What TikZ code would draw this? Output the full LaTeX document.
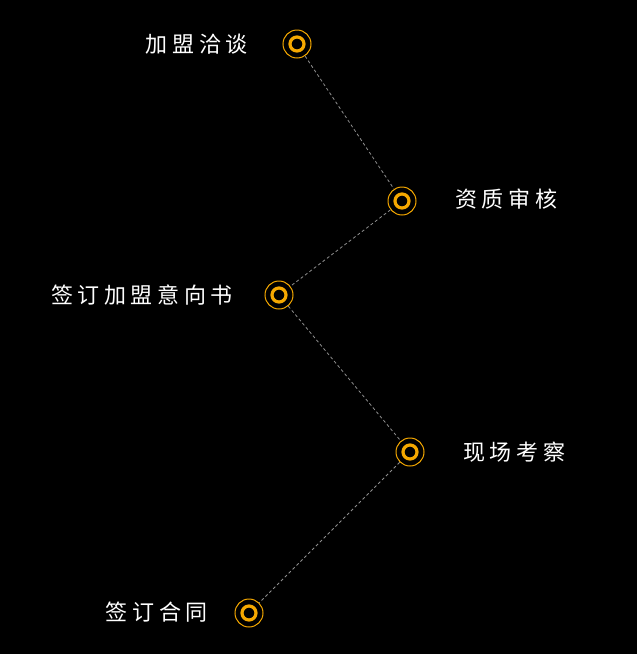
\documentclass[tikz,border=0pt]{standalone}
\usepackage{fontspec}
\newfontfamily\cjk[LetterSpace=21]{Noto Sans CJK SC}
\definecolor{ringcol}{HTML}{F5A800}
\definecolor{dashcol}{HTML}{8E8E8E}
\tikzset{
  stepdot/.style={circle, draw=ringcol, line width=1pt, minimum size=28pt, inner sep=0pt,
    path picture={\draw[ringcol, line width=3.2pt] (path picture bounding box.center) circle (7pt);}},
  lbl/.style={text=white, font=\cjk\fontsize{22pt}{26pt}\selectfont, inner sep=0pt},
  conn/.style={draw=dashcol, line width=0.8pt, dash pattern=on 3pt off 2.5pt}
}
\begin{document}
\begin{tikzpicture}[x=1pt,y=-1pt]
\fill[black] (0,0) rectangle (637,654);
\useasboundingbox (0,0) rectangle (637,654);
\node[stepdot] (n1) at (297,44) {};
\node[stepdot] (n2) at (402,201) {};
\node[stepdot] (n3) at (279,295) {};
\node[stepdot] (n4) at (410,452) {};
\node[stepdot] (n5) at (249,613) {};
\draw[conn] (n1) -- (n2);
\draw[conn] (n2) -- (n3);
\draw[conn] (n3) -- (n4);
\draw[conn] (n4) -- (n5);
\node[lbl, anchor=east] (t1) at (248,44) {加盟洽谈};
\node[lbl, anchor=west] (t2) at (455,199) {资质审核};
\node[lbl, anchor=east] (t3) at (233,295) {签订加盟意向书};
\node[lbl, anchor=west] (t4) at (463,452) {现场考察};
\node[lbl, anchor=east] (t5) at (208,612) {签订合同};
\end{tikzpicture}
\end{document}
